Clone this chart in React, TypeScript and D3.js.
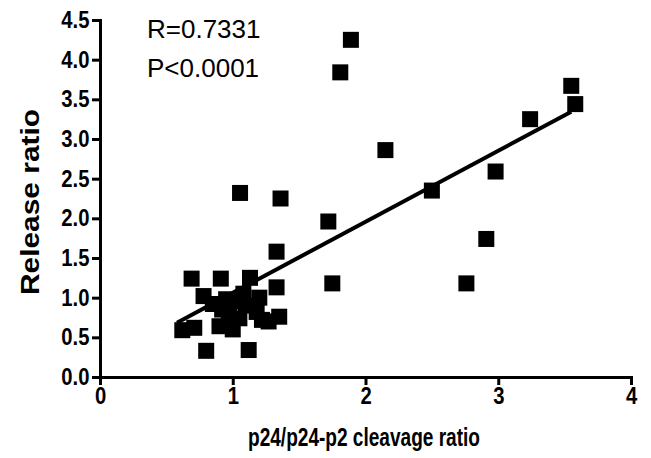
import * as d3 from "d3";
import { useEffect, useRef } from "react";

// values
const cleavageRatio = [
  1.89, 1.81, 3.55, 3.58, 3.24, 2.15, 2.98, 2.5, 1.055, 1.36, 1.72, 2.91, 1.33, 1.75,
  2.76, 1.33, 1.35, 0.8, 1.12, 0.69, 0.91, 1.13, 0.62, 0.71,
  0.78, 0.85, 0.9, 0.95, 0.97, 1.0, 1.05, 1.08, 1.1, 1.18, 1.2, 1.22, 1.27, 0.92, 1.03,
];
const releaseRatio = [
  4.25, 3.84, 3.67, 3.44, 3.25, 2.86, 2.59, 2.35, 2.32, 2.25, 1.96, 1.74, 1.58, 1.18,
  1.18, 1.13, 0.76, 0.33, 0.34, 1.24, 1.24, 1.25, 0.59, 0.62,
  1.02, 0.92, 0.64, 0.98, 0.78, 0.6, 0.74, 1.05, 0.9, 0.82, 1.0, 0.72, 0.7, 0.85, 0.95,
];
const fitSlope = 0.895;
const fitIntercept = 0.166;
const fitRange = [0.58, 3.55];
const xTicks = [0, 1, 2, 3, 4];
const yTicks = [0, 0.5, 1, 1.5, 2, 2.5, 3, 3.5, 4, 4.5];
const statLines = ["R=0.7331", "P<0.0001"];

function ScatterPlot() {
  const ref = useRef<SVGSVGElement>(null);

  useEffect(() => {
    const svg = d3.select(ref.current);
    svg.selectAll("*").remove();

    const width = 651;
    const height = 458;
    const margin = { top: 20, right: 20, bottom: 81, left: 100 };

    svg.attr("width", width).attr("height", height);

    const x = d3.scaleLinear().domain([0, 4]).range([margin.left, width - margin.right]);
    const y = d3.scaleLinear().domain([0, 4.5]).range([height - margin.bottom, margin.top]);

    const bold = "'Liberation Sans', Arial, sans-serif";

    // x axis
    const gx = svg
      .append("g")
      .attr("transform", `translate(0, ${y(0)})`)
      .call(d3.axisBottom(x).tickValues(xTicks).tickFormat(d3.format("d")).tickSizeOuter(0).tickSize(8));
    gx.select(".domain").attr("stroke-width", 3);
    gx.selectAll(".tick line").attr("stroke-width", 3);
    gx.selectAll(".tick text")
      .attr("y", 11)
      .attr("font-family", bold)
      .attr("font-weight", "bold")
      .attr("font-size", 23)
      .attr("transform", "scale(0.88,1)");

    // y axis
    const gy = svg
      .append("g")
      .attr("transform", `translate(${x(0)}, 0)`)
      .call(d3.axisLeft(y).tickValues(yTicks).tickFormat(d3.format(".1f")).tickSizeOuter(0).tickSize(8));
    gy.select(".domain").attr("stroke-width", 3);
    gy.selectAll(".tick line").attr("stroke-width", 3);
    gy.selectAll(".tick text")
      .attr("x", -12)
      .attr("font-family", bold)
      .attr("font-weight", "bold")
      .attr("font-size", 23)
      .attr("transform", "scale(0.88,1)");

    // axis titles
    svg
      .append("text")
      .attr("x", 364)
      .attr("y", 446)
      .attr("text-anchor", "middle")
      .attr("font-family", bold)
      .attr("font-weight", "bold")
      .attr("font-size", 25)
      .attr("textLength", 232)
      .attr("lengthAdjust", "spacingAndGlyphs")
      .text("p24/p24-p2 cleavage ratio");

    svg
      .append("text")
      .attr("transform", `translate(39, 202) rotate(-90)`)
      .attr("text-anchor", "middle")
      .attr("font-family", bold)
      .attr("font-weight", "bold")
      .attr("font-size", 25)
      .attr("textLength", 186)
      .attr("lengthAdjust", "spacingAndGlyphs")
      .text("Release ratio");

    // regression line
    const line = d3
      .line<number>()
      .x((d) => x(d))
      .y((d) => y(fitIntercept + fitSlope * d));
    svg
      .append("path")
      .datum(fitRange)
      .attr("d", line)
      .attr("fill", "none")
      .attr("stroke", "black")
      .attr("stroke-width", 4);

    // points
    const size = 16;
    svg
      .append("g")
      .selectAll("rect")
      .data(cleavageRatio.map((c, i) => [c, releaseRatio[i]]))
      .enter()
      .append("rect")
      .attr("x", (d) => x(d[0]) - size / 2)
      .attr("y", (d) => y(d[1]) - size / 2)
      .attr("width", size)
      .attr("height", size)
      .attr("fill", "black");

    // statistics
    svg
      .append("g")
      .selectAll("text")
      .data(statLines)
      .enter()
      .append("text")
      .attr("x", 147)
      .attr("y", (d, i) => 38 + i * 39)
      .attr("font-family", "'Liberation Sans', Arial, sans-serif")
      .attr("font-size", 26)
      .text((d) => d);
  }, []);

  return <svg ref={ref}></svg>;
}

export default function App() {
  return (
    <div style={{ position: "absolute", left: 0, top: 0, background: "white" }}>
      <ScatterPlot />
    </div>
  );
}
